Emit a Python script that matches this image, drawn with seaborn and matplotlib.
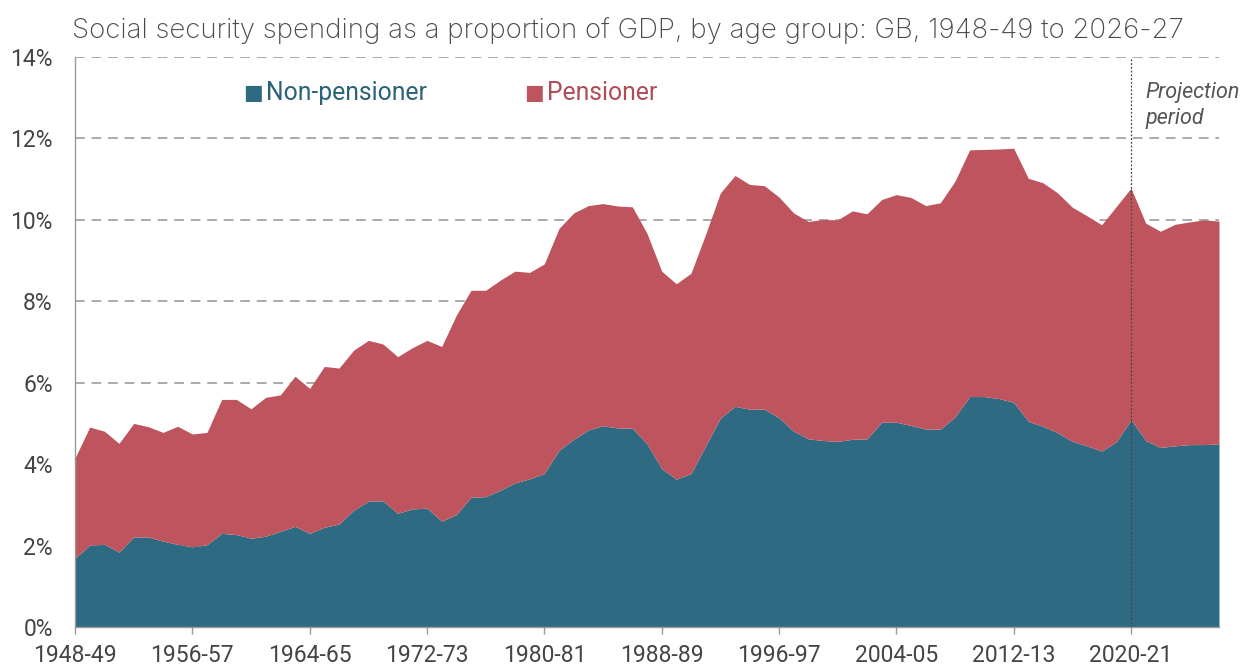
import numpy as np
import matplotlib
matplotlib.use('Agg')
import matplotlib.pyplot as plt
import seaborn as sns

# values (% of GDP)
years = ['%d-%02d' % (y, (y + 1) % 100) for y in range(1948, 2027)]
tick_labels = ['1948-49', '1956-57', '1964-65', '1972-73', '1980-81',
               '1988-89', '1996-97', '2004-05', '2012-13', '2020-21']

non_pensioner = [1.69, 2.01, 2.03, 1.84, 2.21, 2.21, 2.11, 2.03, 1.97, 2.02,
                 2.30, 2.27, 2.18, 2.23, 2.35, 2.47, 2.30, 2.45, 2.53, 2.87,
                 3.09, 3.10, 2.79, 2.90, 2.92, 2.60, 2.76, 3.19, 3.20, 3.36,
                 3.54, 3.64, 3.77, 4.34, 4.61, 4.84, 4.94, 4.89, 4.88, 4.50,
                 3.89, 3.63, 3.77, 4.45, 5.13, 5.42, 5.35, 5.35, 5.14, 4.81,
                 4.62, 4.58, 4.56, 4.61, 4.62, 5.03, 5.03, 4.95, 4.86, 4.86,
                 5.16, 5.66, 5.66, 5.61, 5.52, 5.05, 4.93, 4.77, 4.56, 4.45,
                 4.32, 4.55, 5.09, 4.58, 4.41, 4.45, 4.48, 4.48, 4.50]

pensioner = [2.46, 2.90, 2.78, 2.67, 2.79, 2.71, 2.67, 2.90, 2.77, 2.76,
             3.29, 3.32, 3.18, 3.41, 3.35, 3.69, 3.56, 3.95, 3.83, 3.93,
             3.95, 3.85, 3.85, 3.96, 4.12, 4.29, 4.90, 5.08, 5.07, 5.16,
             5.20, 5.07, 5.15, 5.45, 5.56, 5.51, 5.46, 5.45, 5.44, 5.17,
             4.85, 4.80, 4.92, 5.20, 5.53, 5.67, 5.52, 5.49, 5.42, 5.36,
             5.34, 5.43, 5.44, 5.61, 5.53, 5.47, 5.59, 5.60, 5.49, 5.56,
             5.79, 6.06, 6.07, 6.13, 6.24, 5.97, 5.98, 5.89, 5.75, 5.65,
             5.56, 5.78, 5.69, 5.34, 5.31, 5.44, 5.47, 5.52, 5.47]

projection_start = '2020-21'

teal = '#2e6a82'
red = '#be555e'

sns.set_theme(style='white')
plt.rcParams['font.family'] = ['Roboto', 'DejaVu Sans']

fig = plt.figure(figsize=(12.45, 6.66), dpi=100)
ax = fig.add_axes([75 / 1245, 39 / 666, 1144 / 1245, 570 / 666])

x = np.arange(len(years))
ax.stackplot(x, non_pensioner, pensioner, colors=[teal, red], linewidth=0, zorder=2)

ax.set_xlim(0, len(years) - 1)
ax.set_ylim(0, 14)
ax.set_yticks(range(0, 15, 2))
ax.set_yticklabels(['%d%%' % v for v in range(0, 15, 2)])
ax.set_xticks([years.index(t) for t in tick_labels])
ax.set_xticklabels(tick_labels)

ax.yaxis.grid(True, color='#aaaaaa', linestyle=(0, (5, 3.5)), linewidth=1.4, zorder=0)
ax.xaxis.grid(False)
sns.despine(ax=ax)
for s in ['left', 'bottom']:
    ax.spines[s].set_color('#999999')
    ax.spines[s].set_linewidth(1)

ax.tick_params(axis='y', length=0, pad=16, labelsize=16.5, labelcolor='#444444')
ax.tick_params(axis='x', bottom=True, length=5, width=1, color='#999999',
               pad=7, labelsize=16.5, labelcolor='#444444')

# projection marker
px = years.index(projection_start)
ax.axvline(px, color='#444444', linestyle=(0, (1.5, 1.5)), linewidth=0.9, zorder=3)
ax.text(px + 1, 12.8, 'Projection\nperiod', fontsize=15.5, style='italic',
        color='#555555', va='center', ha='left', linespacing=1.3)

# legend drawn as text
ax.text(0.147, 0.936, '\u25a0', transform=ax.transAxes, color=teal, fontsize=15,
        va='center', ha='left', family=['DejaVu Sans'])
ax.text(0.167, 0.936, 'Non-pensioner', transform=ax.transAxes, color='#2a6278',
        fontsize=17.8, va='center', ha='left')
ax.text(0.393, 0.936, '\u25a0', transform=ax.transAxes, color=red, fontsize=15,
        va='center', ha='left', family=['DejaVu Sans'])
ax.text(0.413, 0.936, 'Pensioner', transform=ax.transAxes, color='#b04c55',
        fontsize=17.8, va='center', ha='left')

fig.text(72 / 1245, 1 - 31 / 666,
         'Social security spending as a proportion of GDP, by age group: GB, 1948-49 to 2026-27',
         fontsize=19.9, color='#4a4a4a', ha='left', va='center', fontweight='light',
         family=['Inter', 'Roboto'])
# the original title is cut off just below the baseline
fig.patches.append(plt.Rectangle((66 / 1245, 1 - 51 / 666), 1, 6 / 666, transform=fig.transFigure,
                                 facecolor='white', edgecolor='none', zorder=5))

fig.savefig('out.png', dpi=100)
